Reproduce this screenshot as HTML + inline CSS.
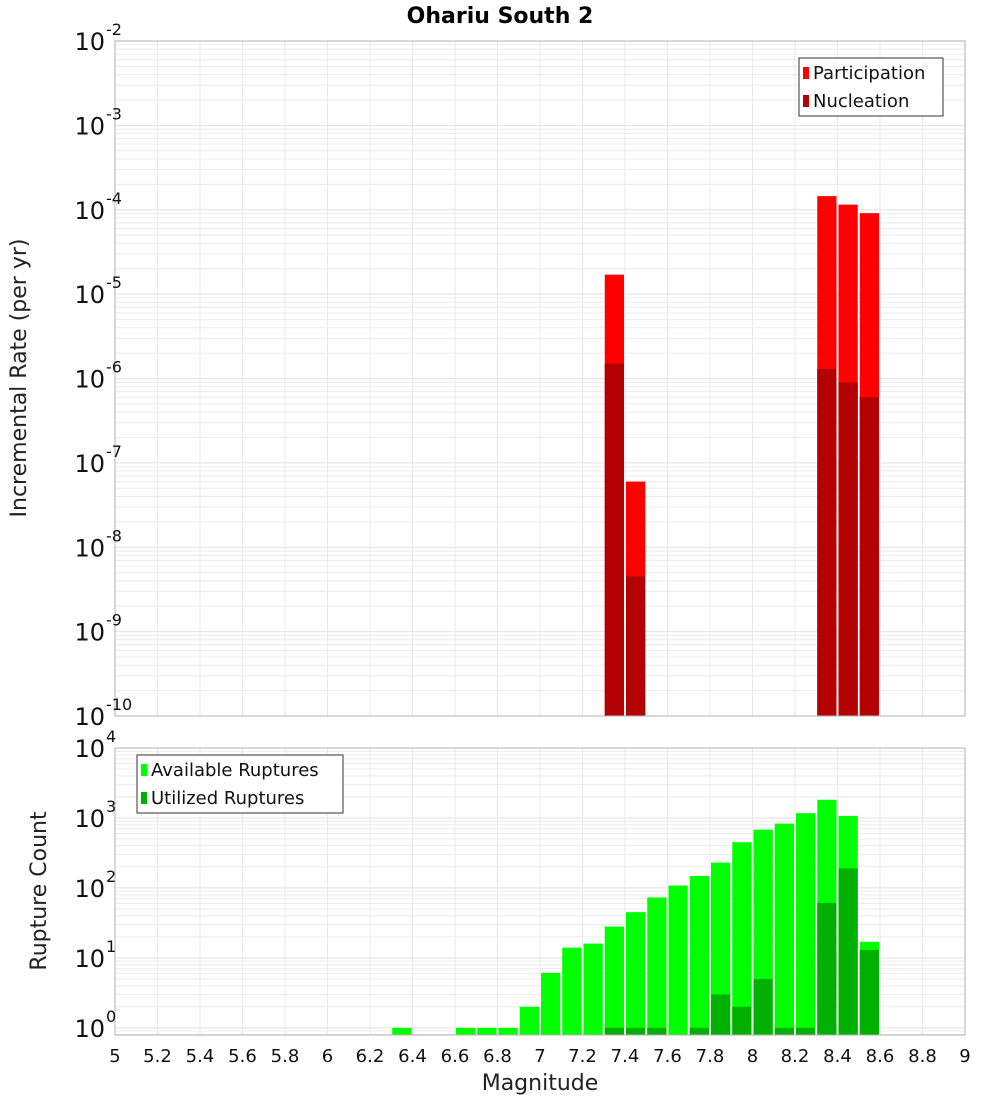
<!DOCTYPE html>
<html><head><meta charset="utf-8"><style>
body{margin:0;background:#fff;font-family:"Liberation Sans","DejaVu Sans",sans-serif;}
svg text{font-family:"DejaVu Sans","Liberation Sans",sans-serif;}
</style></head><body>
<svg id="chart" width="1000" height="1100" xmlns="http://www.w3.org/2000/svg">
<text x="500" y="23" text-anchor="middle" font-size="22" font-weight="bold" fill="#000">Ohariu South 2</text>
<g id="top"></g><g id="bot"></g>
<text transform="translate(26,378) rotate(-90)" text-anchor="middle" font-size="22" fill="#222">Incremental Rate (per yr)</text>
<text transform="translate(46,891) rotate(-90)" text-anchor="middle" font-size="22" fill="#222">Rupture Count</text>
<text x="540" y="1090" text-anchor="middle" font-size="22" fill="#222">Magnitude</text>
</svg>
<script>
const rateMags=[7.35,7.45,8.35,8.45,8.55];
const participation=[1.7e-5,6e-8,1.45e-4,1.15e-4,9.1e-5];
const nucleation=[1.5e-6,4.5e-9,1.3e-6,9e-7,6e-7];
const countMags=[6.35,6.65,6.75,6.85,6.95,7.05,7.15,7.25,7.35,7.45,7.55,7.65,7.75,7.85,7.95,8.05,8.15,8.25,8.35,8.45,8.55];
const available=[1,1,1,1,2,6.1,14,16,28,45,73,108,148,230,450,680,830,1170,1820,1070,17];
const utilized=[0,0,0,0,0,0,0,0,1,1,1,0,1,3,2,5,1,1,61,190,13];
const xTicks=[5,5.2,5.4,5.6,5.8,6,6.2,6.4,6.6,6.8,7,7.2,7.4,7.6,7.8,8,8.2,8.4,8.6,8.8,9];
const topExps=[-2,-3,-4,-5,-6,-7,-8,-9,-10];
const botExps=[4,3,2,1,0];

const NS="http://www.w3.org/2000/svg";
const X0=115,X1=965;
const x=m=>X0+(m-5)/4*(X1-X0);
function mk(p,tag,a){const e=document.createElementNS(NS,tag);for(const k in a)e.setAttribute(k,a[k]);p.appendChild(e);return e;}
function panel(g,T,B,lmin,lmax){
  const y=v=>B-(Math.log10(v)-lmin)/(lmax-lmin)*(B-T);
  const bg=mk(g,'rect',{x:X0,y:T,width:X1-X0,height:B-T,fill:'#fff'});
  
  for(let d=Math.floor(lmin);d<lmax;d++)for(let k=1;k<10;k++){
    const v=k*Math.pow(10,d);const yy=y(v);if(yy<T||yy>B)continue;
    const l=mk(g,'line',{x1:X0,x2:X1,y1:yy,y2:yy,stroke:k==1?'#e2e2e2':'#ececec','stroke-width':1});
    
  }
  xTicks.forEach(t=>{const l=mk(g,'line',{x1:x(t),x2:x(t),y1:T,y2:B,stroke:'#e8e8e8'});
    });
  return y;
}
function ylabels(g,exps,y){
  exps.forEach(e=>{const yy=y(Math.pow(10,e));
    const t=mk(g,'text',{x:105,y:yy+9,'text-anchor':'end','font-size':24,fill:'#111'});
    
    t.textContent='10';
    const s=mk(g,'text',{x:106,y:yy-6,'font-size':16,fill:'#111'});
    
    s.textContent=String(e);});
}
function bar(g,m,v,y,B,fill,name){
  if(!(v>0))return;const yy=Math.max(y(v),0);
  const r=mk(g,'rect',{x:x(m-0.05)+1,y:yy,width:x(m+0.05)-x(m-0.05)-2,height:B-yy,fill:fill});
  
}
function legend(g,lx,ly,w,items){
  const b=mk(g,'rect',{x:lx,y:ly,width:w,height:58,fill:'#fff',stroke:'#333'});
  
  items.forEach((it,i)=>{
    const s=mk(g,'rect',{x:lx+4,y:ly+9+i*28,width:6,height:12,fill:it[1]});
    
    const t=mk(g,'text',{x:lx+14,y:ly+21+i*28,'font-size':18,fill:'#111'});
    
    t.textContent=it[0];});
}
// top panel
const gt=document.getElementById('top');
const yT=panel(gt,41,716,-10,-2);
rateMags.forEach((m,i)=>{bar(gt,m,participation[i],yT,716,'#ff0000','participation-bar');bar(gt,m,nucleation[i],yT,716,'#b30000','nucleation-bar');});
mk(gt,'rect',{x:X0,y:41,width:X1-X0,height:675,fill:'none',stroke:'#b0b0b0'});
ylabels(gt,topExps,yT);
legend(gt,799,58,144,[['Participation','#ff0000'],['Nucleation','#b30000']]);
// bottom panel
const gb=document.getElementById('bot');
const yB=panel(gb,748,1035,Math.log10(0.79),4);
countMags.forEach((m,i)=>{bar(gb,m,available[i],yB,1035,'#00ff00','available-bar');bar(gb,m,utilized[i],yB,1035,'#00b000','utilized-bar');});
mk(gb,'rect',{x:X0,y:748,width:X1-X0,height:287,fill:'none',stroke:'#b0b0b0'});
ylabels(gb,botExps,yB);
legend(gb,137,755,206,[['Available Ruptures','#00ff00'],['Utilized Ruptures','#00b000']]);
xTicks.forEach(t=>{const e=mk(gb,'text',{x:x(t),y:1062,'text-anchor':'middle','font-size':18,fill:'#111'});
  
  e.textContent=String(t);});
</script>
</body></html>
